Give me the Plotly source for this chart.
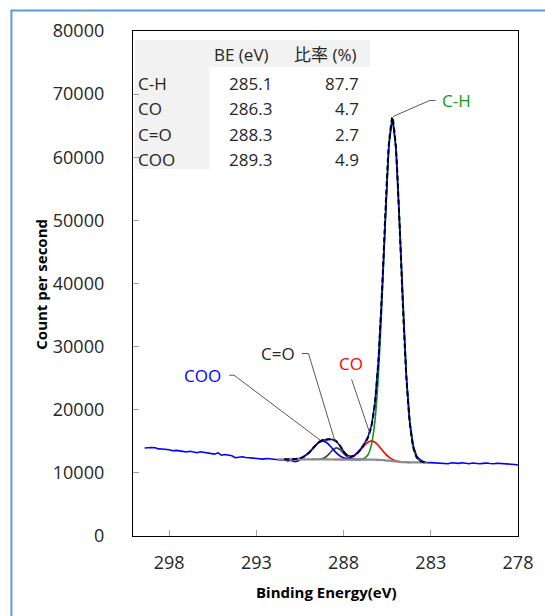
import plotly.graph_objects as go

# ---------------- data ----------------
STEP = 0.2  # eV spacing of the sampled curves (binding energy decreasing)

measured_start = 299.4
measured_cps = [
    13950, 14010, 14030, 13990, 13800,
    13790, 13760, 13660, 13500, 13560,
    13480, 13450, 13310, 13430, 13270,
    13190, 13340, 13230, 13090, 13060,
    12970, 13170, 12800, 12900, 12820,
    12700, 12400, 12480, 12550, 12440,
    12390, 12420, 12290, 12250, 12180,
    12270, 12220, 12090, 12120, 12030,
    12080, 11880, 11990, 11790, 11900,
    12380, 12760, 13120, 13800, 14330,
    14920, 15230, 15210, 15350, 15240,
    14920, 14300, 13420, 12820, 12600,
    12760, 13200, 13850, 14650, 15700,
    17500, 21100, 27900, 38400, 51200,
    62100, 66200, 61500, 50200, 36700,
    25400, 18000, 14200, 12600, 12050,
    11720, 11600, 11620, 11590, 11540,
    11490, 11470, 11440, 11600, 11540,
    11510, 11600, 11480, 11450, 11560,
    11500, 11440, 11500, 11560, 11480,
    11440, 11520, 11500, 11460, 11440,
    11380, 11330, 11250,
]

background_start = 291.8
background_cps = [
    12150, 12150, 12150, 12150, 12150,
    12150, 12149, 12148, 12148, 12147,
    12145, 12142, 12138, 12134, 12130,
    12125, 12121, 12118, 12115, 12113,
    12111, 12109, 12108, 12107, 12105,
    12102, 12098, 12093, 12082, 12065,
    12037, 11993, 11935, 11867, 11799,
    11742, 11700, 11674, 11660, 11654,
    11651, 11650, 11650, 11650,
]

ch_start = 287.2
ch_cps = [12116, 12153, 12312, 12868, 14475, 18272, 25583, 36850, 50296, 61631,
          66067, 61495, 50045, 36513, 25192, 17850, 14036, 12421, 11860, 11698, 11659]

co_start = 288.6
co_cps = [12121, 12122, 12129, 12156, 12227, 12382, 12673, 13131, 13732, 14366,
          14859, 15043, 14843, 14329, 13664, 13017, 12500, 12140, 11915, 11785,
          11714, 11678, 11660]

cdo_start = 289.8
cdo_cps = [12145, 12147, 12169, 12270, 12556, 13088, 13692, 13968, 13686, 13076,
           12537, 12245, 12139, 12112, 12105]

coo_start = 291.2
coo_cps = [12154, 12164, 12192, 12263, 12417, 12703, 13154, 13745, 14368, 14852,
           15034, 14844, 14351, 13721, 13125, 12670, 12382, 12225, 12151, 12122,
           12111, 12106]

fit_start = 291.4
fit_cps = [12151, 12154, 12164, 12192, 12263, 12417, 12703, 13154, 13745, 14373,
           14883, 15170, 15270, 15314, 15292, 14979, 14255, 13388, 12767, 12560,
           12718, 13149, 13781, 14576, 15629, 17425, 21033, 27847, 38477, 51320,
           62196, 66340, 61611, 50088, 36527, 25196, 17850, 14036, 12421, 11860,
           11698, 11659]

# table shown in the chart
peak_names = ["C-H", "CO", "C=O", "COO"]
peak_be = ["285.1", "286.3", "288.3", "289.3"]
peak_ratio = ["87.7", "4.7", "2.7", "4.9"]
table_headers = ["BE (eV)", "比率 (%)"]

x_ticks = [298, 293, 288, 283, 278]
y_ticks = [0, 10000, 20000, 30000, 40000, 50000, 60000, 70000, 80000]


def grid(start, values):
    return [round(start - STEP * i, 2) for i in range(len(values))]


# ---------------- figure ----------------
W, H = 545, 616
L, R, T, B = 133, 24, 31, 80
PW, PH = W - L - R, H - T - B


def px(x):
    return (x - L) / PW


def py(y):
    return (H - B - y) / PH


FONT = "Open Sans, Noto Sans CJK JP, sans-serif"
BLUE = "#0000ff"
GREEN = "#119a11"
RED = "#ff0000"
DARK = "#404040"

fig = go.Figure()
spl = dict(shape="spline", smoothing=0.6)
fig.add_trace(go.Scatter(x=grid(ch_start, ch_cps), y=ch_cps, mode="lines",
                         line=dict(color=GREEN, width=1.6, **spl)))
fig.add_trace(go.Scatter(x=grid(co_start, co_cps), y=co_cps, mode="lines",
                         line=dict(color=RED, width=1.6, **spl)))
fig.add_trace(go.Scatter(x=grid(cdo_start, cdo_cps), y=cdo_cps, mode="lines",
                         line=dict(color=DARK, width=1.6, **spl)))
fig.add_trace(go.Scatter(x=grid(coo_start, coo_cps), y=coo_cps, mode="lines",
                         line=dict(color=BLUE, width=1.6, **spl)))
fig.add_trace(go.Scatter(x=grid(measured_start, measured_cps), y=measured_cps, mode="lines",
                         line=dict(color=BLUE, width=1.6)))
fig.add_trace(go.Scatter(x=grid(background_start, background_cps), y=background_cps, mode="lines",
                         line=dict(color="#8c8c8c", width=2.2, **spl)))
fig.add_trace(go.Scatter(x=grid(fit_start, fit_cps), y=fit_cps, mode="lines",
                         line=dict(color="black", width=2, dash="5px,3px", **spl)))

shapes = []
annotations = []

# outer chart frame (blue, left + top)
shapes.append(dict(type="path", xref="paper", yref="paper",
                   path=f"M {px(10.5)},{py(H + 5)} L {px(10.5)},{py(10.5)} L {px(W + 5)},{py(10.5)}",
                   line=dict(color="#5b9bd5", width=2)))

# table backgrounds
shapes.append(dict(type="rect", xref="paper", yref="paper", layer="below",
                   x0=px(135), x1=px(372), y0=py(40), y1=py(67),
                   fillcolor="#f2f2f2", line=dict(width=0)))
shapes.append(dict(type="rect", xref="paper", yref="paper", layer="below",
                   x0=px(135), x1=px(210), y0=py(67), y1=py(169),
                   fillcolor="#f2f2f2", line=dict(width=0)))

TFS = 17
tf = dict(family=FONT, size=TFS, color="#262626")
annotations.append(dict(xref="paper", yref="paper", x=px(242), y=py(54), text=table_headers[0],
                        showarrow=False, font=tf, xanchor="center", yanchor="middle"))
annotations.append(dict(xref="paper", yref="paper", x=px(327), y=py(54), text=table_headers[1],
                        showarrow=False, font=tf, xanchor="center", yanchor="middle"))
row_y = [83, 108.5, 134, 159]
for name, be, ratio, yy in zip(peak_names, peak_be, peak_ratio, row_y):
    annotations.append(dict(xref="paper", yref="paper", x=px(136), y=py(yy), text=name,
                            showarrow=False, font=tf, xanchor="left", yanchor="middle"))
    annotations.append(dict(xref="paper", yref="paper", x=px(275), y=py(yy), text=be,
                            showarrow=False, font=tf, xanchor="right", yanchor="middle"))
    annotations.append(dict(xref="paper", yref="paper", x=px(363), y=py(yy), text=ratio,
                            showarrow=False, font=tf, xanchor="right", yanchor="middle"))

# peak labels with leader lines (label layout, in axis units)
LFS = 17
lead = dict(color="#595959", width=1)
# C-H
shapes.append(dict(type="path", xref="x", yref="y",
                   path="M 285.16,66450 L 283.07,68990 L 282.73,68990", line=lead))
annotations.append(dict(x=282.45, y=68990, text="C-H", showarrow=False, xanchor="left",
                        yanchor="middle", font=dict(family=FONT, size=LFS, color=GREEN)))
# C=O
shapes.append(dict(type="path", xref="x", yref="y",
                   path="M 288.48,14920 L 290.01,28910 L 290.39,28910", line=lead))
annotations.append(dict(x=290.69, y=28910, text="C=O", showarrow=False, xanchor="right",
                        yanchor="middle", font=dict(family=FONT, size=LFS, color="#262626")))
# COO
shapes.append(dict(type="path", xref="x", yref="y",
                   path="M 289.34,15190 L 294.28,25475 L 294.56,25475", line=lead))
annotations.append(dict(x=294.9, y=25475, text="COO", showarrow=False, xanchor="right",
                        yanchor="middle", font=dict(family=FONT, size=LFS, color=BLUE)))
# CO
shapes.append(dict(type="path", xref="x", yref="y",
                   path="M 286.49,16250 L 287.54,24800", line=lead))
annotations.append(dict(x=287.56, y=27370, text="CO", showarrow=False, xanchor="center",
                        yanchor="middle", font=dict(family=FONT, size=LFS, color=RED)))

# axis titles
annotations.append(dict(xref="paper", yref="paper", x=px(40), y=py(284), text="<b>Count per second</b>",
                        textangle=-90, showarrow=False, xanchor="center", yanchor="middle",
                        font=dict(family=FONT, size=15, color="black")))
annotations.append(dict(xref="paper", yref="paper", x=px(328), y=py(592), text="<b>Binding Energy(eV)</b>",
                        showarrow=False, xanchor="center", yanchor="middle",
                        font=dict(family=FONT, size=15, color="black")))

fig.update_layout(
    width=W, height=H,
    margin=dict(l=L, r=R, t=T, b=B, pad=0),
    paper_bgcolor="white", plot_bgcolor="white",
    showlegend=False,
    shapes=shapes, annotations=annotations,
    font=dict(family=FONT, size=18, color="#262626"),
)
fig.update_xaxes(range=[300.07, 278], tickvals=x_ticks, ticktext=[str(v) for v in x_ticks],
                 showgrid=False, zeroline=False, showline=True, linecolor="black", linewidth=1.3,
                 mirror=True, ticks="inside", ticklen=6, tickcolor="#a0a0a0", ticklabelstandoff=10,
                 tickfont=dict(family=FONT, size=18, color="#262626"))
fig.update_yaxes(range=[0, 80000], tickvals=y_ticks, ticktext=[str(v) for v in y_ticks],
                 showgrid=False, zeroline=False, showline=True, linecolor="black", linewidth=1.3,
                 mirror=True, ticks="inside", ticklen=6, tickcolor="#a0a0a0", ticklabelstandoff=24,
                 tickfont=dict(family=FONT, size=18, color="#262626"))

fig.write_html("out.html")
